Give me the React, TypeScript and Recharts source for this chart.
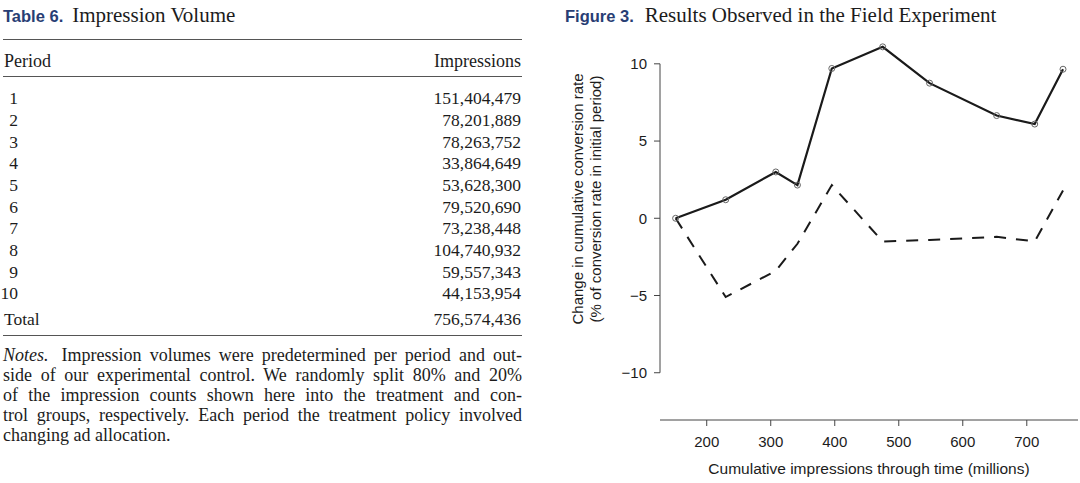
import { LineChart, Line, XAxis, YAxis, ReferenceLine, Label } from 'recharts'

// table 6
const periods = ['1', '2', '3', '4', '5', '6', '7', '8', '9', '10']
const impressions = [151404479, 78201889, 78263752, 33864649, 53628300, 79520690, 73238448, 104740932, 59557343, 44153954]
const totalImpressions = 756574436

const noteLines = [
  'Impression volumes were predetermined per period and out-',
  'side of our experimental control. We randomly split 80% and 20%',
  'of the impression counts shown here into the treatment and con-',
  'trol groups, respectively. Each period the treatment policy involved',
  'changing ad allocation.',
]

// figure 3
const cumulativeMillions = [151.4, 229.6, 307.9, 341.7, 395.4, 474.9, 548.1, 652.9, 712.4, 756.6]
const treatmentChange = [0, 1.2, 3.0, 2.15, 9.7, 11.1, 8.75, 6.65, 6.1, 9.65]
const controlChange = [0, -5.1, -3.4, -1.65, 2.15, -1.5, -1.4, -1.2, -1.5, 1.8]
const xTicks = [200, 300, 400, 500, 600, 700]
const yTicks = [-10, -5, 0, 5, 10]

const chartData = cumulativeMillions.map((x, i) => ({
  x,
  treatment: treatmentChange[i],
  control: controlChange[i],
}))

const serif = '"Liberation Serif", "DejaVu Serif", serif'
const sans = '"Liberation Sans", Arial, sans-serif'
const navy = '#283e74'
const ink = '#1c1c1c'

const fmt = (n: number) => n.toLocaleString('en-US')
const minus = (v: number) => (v < 0 ? `\u2212${Math.abs(v)}` : `${v}`)

const Rule = ({ top }: { top: number }) => (
  <div style={{ position: 'absolute', left: 3, width: 519, top, height: 1, background: '#555' }} />
)

const YLabel = (props: any) => {
  const vb = props.viewBox || { x: 0, y: 30, width: 100, height: 390 }
  const cy = vb.y + vb.height / 2 - 26
  const lines = [
    { x: vb.x + 17, t: 'Change in cumulative conversion rate' },
    { x: vb.x + 35.5, t: '(% of conversion rate in initial period)' },
  ]
  return (
    <g>
      {lines.map((l) => (
        <text
          key={l.t}
          x={l.x}
          y={cy}
          transform={`rotate(-90, ${l.x}, ${cy})`}
          textAnchor="middle"
          dominantBaseline="central"
          fontSize={15}
          fontFamily={sans}
          fill={ink}
        >
          {l.t}
        </text>
      ))}
    </g>
  )
}

const Figure = () => (
  <LineChart width={520} height={483} data={chartData} margin={{ top: 30, right: 2, bottom: 0, left: 0 }}>
    <XAxis
      type="number"
      dataKey="x"
      domain={[127, 780]}
      ticks={xTicks}
      interval={0}
      allowDataOverflow
      height={63}
      tickSize={6}
      tickMargin={10}
      stroke="#444"
      tick={{ fill: ink, fontSize: 15, fontFamily: sans }}
    >
      <Label
        value="Cumulative impressions through time (millions)"
        position="insideBottom"
        offset={9}
        fill={ink}
        fontSize={15.5}
        fontFamily={sans}
      />
    </XAxis>
    <YAxis
      type="number"
      domain={[-13.06, 12.19]}
      ticks={yTicks}
      interval={0}
      allowDataOverflow
      width={100}
      axisLine={false}
      tickSize={6}
      tickMargin={7}
      tickLine={{ stroke: '#444' }}
      tickFormatter={minus}
      tick={{ fill: ink, fontSize: 15, fontFamily: sans }}
    >
      <Label content={YLabel} />
    </YAxis>
    <ReferenceLine segment={[{ x: 127, y: -10 }, { x: 127, y: 10 }]} stroke="#444" strokeWidth={1} />
    <Line
      type="linear"
      dataKey="control"
      stroke="#1a1a1a"
      strokeWidth={2}
      strokeDasharray="12 10"
      dot={false}
      activeDot={false}
      isAnimationActive={false}
    />
    <Line
      type="linear"
      dataKey="treatment"
      stroke="#1a1a1a"
      strokeWidth={2.2}
      dot={{ r: 3, stroke: '#666', strokeWidth: 1, fill: 'none' }}
      activeDot={false}
      isAnimationActive={false}
    />
  </LineChart>
)

const rowTop = (i: number) => 98.3 + i * 21.67 - 10

export default function App() {
  return (
    <div
      style={{
        position: 'absolute',
        left: 0,
        top: 0,
        width: 1080,
        height: 483,
        overflow: 'hidden',
        background: '#fff',
        color: ink,
        fontFamily: serif,
        fontSize: 17.5,
      }}
    >
      {/* Table 6 */}
      <div style={{ position: 'absolute', left: 3, top: 3, lineHeight: '24px', whiteSpace: 'nowrap' }}>
        <span style={{ fontFamily: sans, fontWeight: 700, fontSize: 16.5, color: navy, marginRight: 9 }}>Table 6.</span>
        <span style={{ fontSize: 21 }}>Impression Volume</span>
      </div>
      <Rule top={39} />
      <div style={{ position: 'absolute', left: 4, top: 51, lineHeight: '20px', fontSize: 18 }}>Period</div>
      <div
        style={{ position: 'absolute', left: 300, width: 221, top: 51, lineHeight: '20px', textAlign: 'right', fontSize: 18 }}
      >
        Impressions
      </div>
      <Rule top={76} />
      {periods.map((p, i) => (
        <div key={p}>
          <div style={{ position: 'absolute', left: 0, width: 18, top: rowTop(i), lineHeight: '20px', textAlign: 'right' }}>
            {p}
          </div>
          <div style={{ position: 'absolute', left: 300, width: 221, top: rowTop(i), lineHeight: '20px', textAlign: 'right' }}>
            {fmt(impressions[i])}
          </div>
        </div>
      ))}
      <div style={{ position: 'absolute', left: 4, top: 309.3, lineHeight: '20px' }}>Total</div>
      <div style={{ position: 'absolute', left: 300, width: 221, top: 309.3, lineHeight: '20px', textAlign: 'right' }}>
        {fmt(totalImpressions)}
      </div>
      <Rule top={335} />
      {noteLines.map((t, i) => {
        const last = i === noteLines.length - 1
        return (
          <div
            key={i}
            style={{
              position: 'absolute',
              left: 3,
              width: 519,
              top: 345 + i * 20,
              lineHeight: '20px',
              fontSize: 18,
              textAlign: last ? 'left' : 'justify',
              textAlignLast: last ? 'left' : 'justify',
            }}
          >
            {i === 0 && <i style={{ marginRight: 5 }}>Notes.</i>}
            {i === 0 && ' '}
            {t}
          </div>
        )
      })}

      {/* Figure 3 */}
      <div style={{ position: 'absolute', left: 565, top: 3, lineHeight: '24px', whiteSpace: 'nowrap' }}>
        <span style={{ fontFamily: sans, fontWeight: 700, fontSize: 16.5, color: navy, marginRight: 11 }}>Figure 3.</span>
        <span style={{ fontSize: 21 }}>Results Observed in the Field Experiment</span>
      </div>
      <div style={{ position: 'absolute', left: 560, top: 0 }}>
        <Figure />
      </div>
    </div>
  )
}
